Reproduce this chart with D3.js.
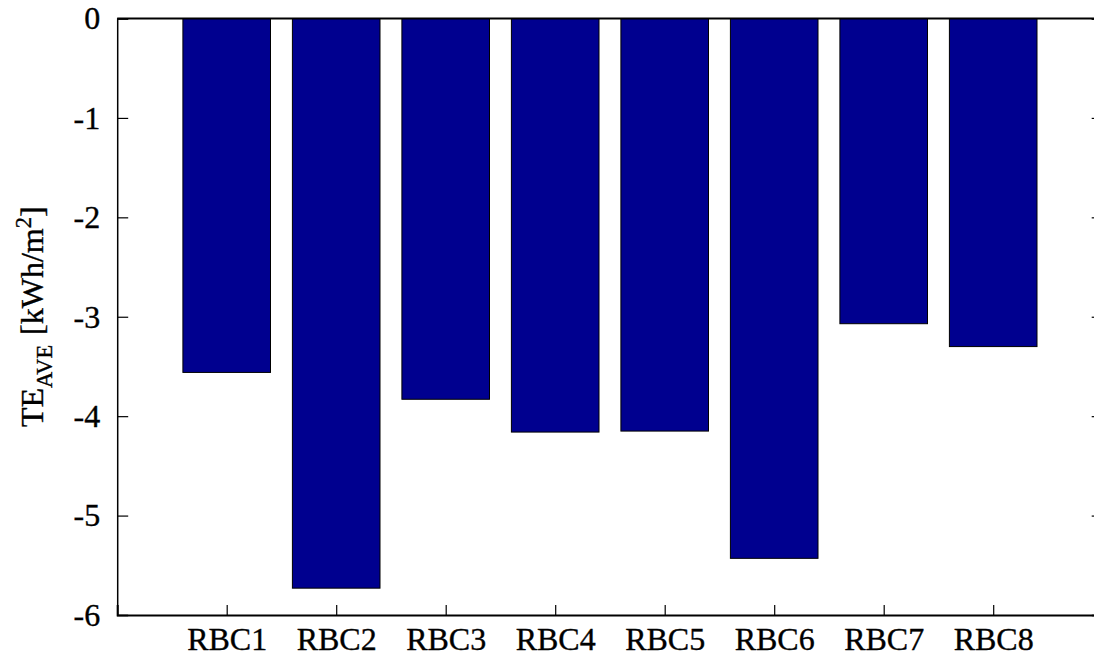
<!DOCTYPE html>
<html>
<head>
<meta charset="utf-8">
<script src="https://cdn.jsdelivr.net/npm/d3@7"></script>
<style>
  html, body { margin: 0; padding: 0; background: #fff; }
  svg { display: block; }
  svg text { fill: #000; stroke: #000; stroke-width: 0.35px; }
</style>
</head>
<body>
<svg id="chart" width="1094" height="657"></svg>
<script>
// Average thermal energy change per rule-based controller
const categories = ["RBC1", "RBC2", "RBC3", "RBC4", "RBC5", "RBC6", "RBC7", "RBC8"];
const teAve = [-3.56, -5.73, -3.83, -4.16, -4.15, -5.43, -3.07, -3.30];
const yTicks = [0, -1, -2, -3, -4, -5, -6];

const serif = "'Liberation Serif', 'Times New Roman', Times, serif";
const svg = d3.select("#chart");
const plotLeft = 117.2, plotRight = 1102.7, plotTop = 18.5, plotBottom = 615;

// Category positions 1..8 on a 0..9 axis
const x = d3.scaleLinear().domain([0, 9]).range([plotLeft, plotRight]);
const y = d3.scaleLinear().domain([-6, 0]).range([plotBottom, plotTop]);
const barW = (x(1) - x(0)) * 0.8;

const fontSize = 32;

// Bars
svg.append("g")
  .selectAll("rect")
  .data(teAve)
  .join("rect")
  .attr("x", (d, i) => x(i + 1) - barW / 2)
  .attr("y", y(0))
  .attr("width", barW)
  .attr("height", d => y(d) - y(0))
  .attr("fill", "#00008f")
  .attr("stroke", "#000")
  .attr("stroke-width", 1);

// Left axis (ticks pointing inward)
const yAxis = d3.axisLeft(y).tickValues(yTicks).tickSize(-11).tickPadding(17)
  .tickFormat(d => d === 0 ? "0" : "-" + Math.abs(d));
const gy = svg.append("g").attr("transform", `translate(${plotLeft},0)`).call(yAxis)
  .attr("font-family", serif).attr("font-size", fontSize);
gy.select(".domain").attr("stroke", "#000").attr("stroke-width", 1.5);
gy.selectAll(".tick line").attr("stroke", "#000").attr("stroke-width", 1.2);
gy.selectAll(".tick text").style("font-family", serif).style("font-size", fontSize + "px");

// Right axis ticks (inward)
const yAxisR = d3.axisRight(y).tickValues(yTicks).tickSize(-11).tickFormat("");
const gyr = svg.append("g").attr("transform", `translate(${plotRight},0)`).call(yAxisR);
gyr.select(".domain").attr("stroke", "#000").attr("stroke-width", 1.5);
gyr.selectAll(".tick line").attr("stroke", "#000").attr("stroke-width", 1.2);

// Bottom axis (ticks inward)
const xAxis = d3.axisBottom(x).tickValues(d3.range(1, 9)).tickSize(-10).tickPadding(12)
  .tickFormat(d => categories[d - 1]);
const gx = svg.append("g").attr("transform", `translate(0,${plotBottom})`).call(xAxis)
  .attr("font-family", serif).attr("font-size", fontSize);
gx.select(".domain").attr("stroke", "#000").attr("stroke-width", 2);
gx.selectAll(".tick line").attr("stroke", "#000").attr("stroke-width", 1.2);
gx.selectAll(".tick text").style("font-family", serif).style("font-size", fontSize + "px");

// Top border
svg.append("line")
  .attr("x1", plotLeft).attr("x2", plotRight)
  .attr("y1", plotTop).attr("y2", plotTop)
  .attr("stroke", "#000").attr("stroke-width", 2.2);

// Y-axis title: TE_AVE [kWh/m^2]
const title = svg.append("text")
  .attr("transform", `translate(43,${(plotTop + plotBottom) / 2}) rotate(-90)`)
  .attr("text-anchor", "middle")
  .style("font-family", serif)
  .attr("font-size", fontSize);
title.append("tspan").text("TE");
title.append("tspan").attr("baseline-shift", "-40%").attr("font-size", fontSize * 0.7).text("AVE");
title.append("tspan").attr("dx", 2).text(" [kWh/m");
title.append("tspan").attr("baseline-shift", "55%").attr("font-size", fontSize * 0.7).text("2");
title.append("tspan").text("]");
</script>
</body>
</html>
